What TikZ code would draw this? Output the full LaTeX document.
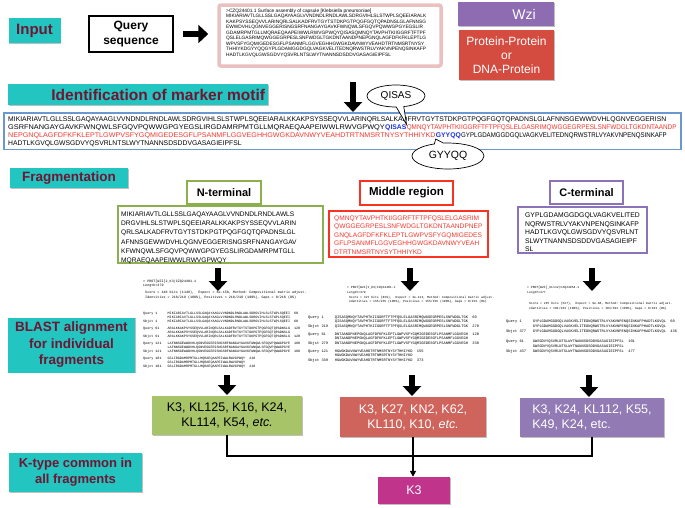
\documentclass[tikz,border=0pt]{standalone}
\usepackage{fontspec}
\setmainfont{Liberation Sans}
\setmonofont{Liberation Mono}
\usetikzlibrary{arrows.meta,shapes.callouts,shadows}
\newcommand{\FS}[2]{\fontsize{#1}{#2}\selectfont}
\newcommand{\BQrow}[4]{\makebox[7.2em][l]{#1\hspace{0.6em}#2}#3\hspace{1.2em}#4}
\newcommand{\BQmid}[1]{\hspace{7.2em}#1}
\definecolor{teal1}{RGB}{34,197,192}
\definecolor{maroon1}{RGB}{110,22,52}
\definecolor{pinkb}{RGB}{234,192,192}
\definecolor{wzi}{RGB}{142,108,178}
\definecolor{ppred}{RGB}{212,76,64}
\definecolor{blueb}{RGB}{108,152,208}
\definecolor{seqred}{RGB}{245,55,45}
\definecolor{seqblue}{RGB}{30,50,220}
\definecolor{ngreen}{RGB}{140,175,80}
\definecolor{mred}{RGB}{250,50,35}
\definecolor{cpurple}{RGB}{140,115,185}
\definecolor{rgreen}{RGB}{168,196,104}
\definecolor{rred}{RGB}{206,100,92}
\definecolor{rpurple}{RGB}{146,122,180}
\definecolor{kmag}{RGB}{192,52,140}
\begin{document}
\begin{tikzpicture}[x=1pt,y=-1pt,
  shad/.style={drop shadow={shadow xshift=0.8pt,shadow yshift=-0.8pt,opacity=0.25,fill=black}},
  banner/.style={fill=teal1,text=maroon1,inner sep=0pt,align=center,shad},
  bigarrow/.style={line width=6.5pt,-{Triangle[length=10pt,width=18pt]}},
  conn/.style={line width=1.6pt},
  seqtxt/.style={anchor=base west,inner sep=0pt,font=\FS{6.8}{8}},
  motif/.style={anchor=base west,inner sep=0pt,text=seqblue,font=\FS{6.8}{8}\bfseries},
  lblbox/.style={fill=white,inner sep=0pt,font=\FS{11}{13}\bfseries,shad},
  seqbox/.style={fill=white,inner sep=0pt,shad},
  seqblk/.style={anchor=north west,inner sep=0pt,align=left},
  resbox/.style={inner sep=0pt,align=center,font=\FS{12.5}{15},shad},
  blast/.style={anchor=north west,inner sep=0pt,align=left}
]
\useasboundingbox (0,0) rectangle (685,507);

% ---------- Input row ----------
\node[banner,minimum width=52pt,minimum height=25pt,font=\FS{15}{17}\bfseries] (input) at (34.5,30.5) {Input};
\node[draw=black,line width=1.2pt,fill=white,minimum width=84pt,minimum height=36pt,align=center,inner sep=0pt,font=\FS{12}{15}\bfseries,shad] (query) at (131,34) {Query\\sequence};
\node[draw=pinkb,line width=3.5pt,rounded corners=2pt,fill=white,minimum width=222pt,minimum height=61pt,inner sep=0pt] (qseq) at (330,35.5) {};
\node[blast,font=\FS{4.8}{5.5}] (qseqtxt) at (226,8.5) {>CZQ24401.1 Surface assembly of capsule [Klebsiella pneumoniae]\\
MIKIARIAVTLGLLSSLGAQAYAAGLVVNDNDLRNDLAWLSDRGVIHLSLSTWPLSQEEIARALK\\
KAKPSYSSEQVVLARINQRLSALKADFRVTGYTSTDKPGTPQGFGQTQPADNSLGLAFNNSG\\
EWWDVHLQGNVEGGERISNGSRFNANGAYGAVKFWNQWLSFGQVPQWWGPGYEGSLIR\\
GDAMRPMTGLLMQRAEQAAPEIWWLRWVGPWQYQISASQMNQYTAVPHTKIIGGRFTFTPF\\
QSLELGASRIMQWGGEGRPESLSNFWDGLTGKDNTAANDPNEPGNQLAGFDFKFKLEPTLG\\
WPVSFYGQMIGEDESGFLPSANMFLGGVEGHHGWGKDAVNWYVEAHDTRTNMSRTNYSY\\
THHIYKDGYYQQGYPLGDAMGGDGQLVAGKVELITEDNQRWSTRLVYAKVNPENQSINKAFP\\
HADTLKGVQLGWSGDVYQSVRLNTSLWYTNANNSDSDDVGASAGIEIPFSL};
\draw[bigarrow,shorten <=9pt,shorten >=9pt] (query.east) -- (query.east -| qseq.west);

\node[fill=wzi,minimum width=96pt,minimum height=24pt,inner sep=0pt,shad] (wzi) at (506,14) {};
\node[text=white,inner sep=0pt,font=\FS{14}{16}] (wzit) at ([xshift=18pt]wzi.center) {Wzi};
\node[fill=ppred,minimum width=95pt,minimum height=50pt,inner sep=0pt,align=center,text=white,font=\FS{12}{14},shad] (pp) at (506.5,55) {Protein-Protein\\or\\DNA-Protein};

% ---------- marker motif ----------
\node[banner,minimum width=260pt,minimum height=21pt] (ident) at (138,94.5) {};
\node[anchor=east,inner sep=0pt,text=maroon1,font=\FS{15.5}{17}\bfseries] (identt) at ([xshift=-3pt]ident.east) {Identification of marker motif};

\node[draw=blueb,line width=1.5pt,fill=white,minimum width=677pt,minimum height=36.5pt,inner sep=0pt,shad] (mainseq) at (342.5,131) {};
\coordinate (a2s) at (353,82);
\draw[bigarrow] (a2s) -- (a2s |- mainseq.north);

\node[seqtxt] (l1) at (8,121.5) {MIKIARIAVTLGLLSSLGAQAYAAGLVVNDNDLRNDLAWLSDRGVIHLSLSTWPLSQEEIARALKKAKPSYSSEQVVLARINQRLSALKADFRVTGYTSTDKPGTPQGFGQTQPADNSLGLAFNNSGEWWDVHLQGNVEGGERISN};
\node[seqtxt] (l2a) at (8,129.5) {\scalebox{1.08}[1]{GSRFNANGAYGAVKFWNQWLSFGQVPQWWGPGYEGSLIRGDAMRPMTGLLMQRAEQAAPEIWWLRWVGPWQY}};
\node[motif] (qisas) at (l2a.base east) {QISAS};
\node[seqtxt,text=seqred] (l2c) at (qisas.base east) {\scalebox{0.936}[1]{QMNQYTAVPHTKIIGGRFTFTPFQSLELGASRIMQWGGEGRPESLSNFWDGLTGKDNTAANDP}};
\node[seqtxt,text=seqred] (l3a) at (8,137.5) {\scalebox{1.052}[1]{NEPGNQLAGFDFKFKLEPTLGWPVSFYGQMIGEDESGFLPSANMFLGGVEGHHGWGKDAVNWYVEAHDTRTNMSRTNYSYTHHIYKD}};
\node[motif] (gyyqq) at (l3a.base east) {GYYQQ};
\node[seqtxt] (l3c) at (gyyqq.base east) {\scalebox{0.9}[1]{GYPLGDAMGGDGQLVAGKVELITEDNQRWSTRLVYAKVNPENQSINKAFP}};
\node[seqtxt] (l4) at (8,145.5) {HADTLKGVQLGWSGDVYQSVRLNTSLWYTNANNSDSDDVGASAGIEIPFSL};

\node[ellipse callout,draw=black,line width=0.7pt,fill=white,minimum width=58pt,minimum height=22pt,inner sep=0pt,font=\FS{10}{12},callout absolute pointer={(qisas.north east)}] (qc) at (396,96) {QISAS};
\node[ellipse callout,draw=black,line width=0.7pt,fill=white,minimum width=72pt,minimum height=26pt,inner sep=0pt,font=\FS{10.5}{12},callout absolute pointer={(gyyqq.south west)}] (gc) at (448,156) {GYYQQ};

% ---------- fragmentation ----------
\node[banner,minimum width=118pt,minimum height=20pt,font=\FS{13.5}{15}\bfseries] (frag) at (69,178) {Fragmentation};

\node[lblbox,draw=ngreen,line width=1.5pt,minimum width=74pt,minimum height=23pt] (nlab) at (224,192.5) {N-terminal};
\node[lblbox,draw=mred,line width=2pt,minimum width=93pt,minimum height=24pt,font=\FS{11.5}{13}\bfseries] (mlab) at (406.5,193) {Middle region};
\node[lblbox,draw=cpurple,line width=1.5pt,minimum width=73pt,minimum height=23pt] (clab) at (586.5,192.5) {C-terminal};

\node[seqbox,draw=ngreen,line width=1.5pt,minimum width=205pt,minimum height=57pt] (nseq) at (220.5,234.5) {};
\node[seqblk,font=\FS{6.6}{9.2}] (ntext) at (121,211.7) {MIKIARIAVTLGLLSSLGAQAYAAGLVVNDNDLRNDLAWLS\\
DRGVIHLSLSTWPLSQEEIARALKKAKPSYSSEQVVLARIN\\
QRLSALKADFRVTGYTSTDKPGTPQGFGQTQPADNSLGL\\
AFNNSGEWWDVHLQGNVEGGERISNGSRFNANGAYGAV\\
KFWNQWLSFGQVPQWWGPGYEGSLIRGDAMRPMTGLL\\
MQRAEQAAPEIWWLRWVGPWQY};

\node[seqbox,draw=mred,line width=1.5pt,minimum width=159pt,minimum height=46pt] (mseq) at (408.5,234) {};
\node[seqblk,text=seqred,font=\FS{6.6}{8.4}] (mtext) at (334,215.7) {QMNQYTAVPHTKIIGGRFTFTPFQSLELGASRIM\\
QWGGEGRPESLSNFWDGLTGKDNTAANDPNEP\\
GNQLAGFDFKFKLEPTLGWPVSFYGQMIGEDES\\
GFLPSANMFLGGVEGHHGWGKDAVNWYVEAH\\
DTRTNMSRTNYSYTHHIYKD};

\node[seqbox,draw=cpurple,line width=1.5pt,minimum width=129pt,minimum height=46pt] (cseq) at (582.5,230) {};
\node[seqblk,font=\FS{6.8}{8.5}] (ctext) at (525,212.6) {GYPLGDAMGGDGQLVAGKVELITED\\
NQRWSTRLVYAKVNPENQSINKAFP\\
HADTLKGVQLGWSGDVYQSVRLNT\\
SLWYTNANNSDSDDVGASAGIEIPF\\
SL};

\coordinate (na1) at (218,268); \coordinate (na2) at (218,291);
\coordinate (ma1) at (410,268); \coordinate (ma2) at (410,291);
\coordinate (ca1) at (592,268); \coordinate (ca2) at (592,291);
\draw[bigarrow] (na1) -- (na2);
\draw[bigarrow] (ma1) -- (ma2);
\draw[bigarrow] (ca1) -- (ca2);

% ---------- BLAST ----------
\node[banner,minimum width=127pt,minimum height=55pt,font=\FS{13.5}{16.5}\bfseries] (blastlab) at (71.5,345) {BLAST alignment\\for individual\\fragments};

\node[blast,font=\ttfamily\FS{3.4}{4.6}] (b1) at (143,279.5) {> PROT[WZI]2\_K3|CZQ24401.1\\
Length=479\\[2.5pt]
~Score = 446 bits (1148),~~Expect = 6e-158, Method: Compositional matrix adjust.\\
~Identities = 218/218 (100\%), Positives = 218/218 (100\%), Gaps = 0/218 (0\%)\\[11pt]
\BQrow{Query}{1~~~}{MIKIARIAVTLGLLSSLGAQAYAAGLVVNDNDLRNDLAWLSDRGVIHLSLSTWPLSQEEI}{60}\\[-0.6pt]
\BQmid{MIKIARIAVTLGLLSSLGAQAYAAGLVVNDNDLRNDLAWLSDRGVIHLSLSTWPLSQEEI}\\[-0.6pt]
\BQrow{Sbjct}{1~~~}{MIKIARIAVTLGLLSSLGAQAYAAGLVVNDNDLRNDLAWLSDRGVIHLSLSTWPLSQEEI}{60}\\[2.4pt]
\BQrow{Query}{61~~}{ARALKKAKPSYSSEQVVLARINQRLSALKADFRVTGYTSTDKPGTPQGFGQTQPADNSLG}{120}\\[-0.6pt]
\BQmid{ARALKKAKPSYSSEQVVLARINQRLSALKADFRVTGYTSTDKPGTPQGFGQTQPADNSLG}\\[-0.6pt]
\BQrow{Sbjct}{61~~}{ARALKKAKPSYSSEQVVLARINQRLSALKADFRVTGYTSTDKPGTPQGFGQTQPADNSLG}{120}\\[2.4pt]
\BQrow{Query}{121~}{LAFNNSGEWWDVHLQGNVEGGERISNGSRFNANGAYGAVKFWNQWLSFGQVPQWWGPGYE}{180}\\[-0.6pt]
\BQmid{LAFNNSGEWWDVHLQGNVEGGERISNGSRFNANGAYGAVKFWNQWLSFGQVPQWWGPGYE}\\[-0.6pt]
\BQrow{Sbjct}{121~}{LAFNNSGEWWDVHLQGNVEGGERISNGSRFNANGAYGAVKFWNQWLSFGQVPQWWGPGYE}{180}\\[2.4pt]
\BQrow{Query}{181~}{GSLIRGDAMRPMTGLLMQRAEQAAPEIWWLRWVGPWQY}{218}\\[-0.6pt]
\BQmid{GSLIRGDAMRPMTGLLMQRAEQAAPEIWWLRWVGPWQY}\\[-0.6pt]
\BQrow{Sbjct}{181~}{GSLIRGDAMRPMTGLLMQRAEQAAPEIWWLRWVGPWQY}{218}};

\node[blast,font=\ttfamily\FS{3.1}{4.2}] (b2h) at (347,286.5) {> PROT[WZI]2\_K3|CZQ24401.1\\
Length=479\\[0.8pt]
~Score = 327 bits (839),~~Expect = 3e-113, Method: Compositional matrix adjust.\\
~Identities = 155/155 (100\%), Positives = 155/155 (100\%), Gaps = 0/155 (0\%)};
\node[blast,font=\ttfamily\FS{3.7}{4.5}] (b2) at (308,315.5) {\BQrow{Query}{1~~~}{QISASQMNQYTAVPHTKIIGGRFTFTPFQSLELGASRIMQWGGEGRPESLSNFWDGLTGK}{60}\\
\BQmid{QISASQMNQYTAVPHTKIIGGRFTFTPFQSLELGASRIMQWGGEGRPESLSNFWDGLTGK}\\
\BQrow{Sbjct}{219~}{QISASQMNQYTAVPHTKIIGGRFTFTPFQSLELGASRIMQWGGEGRPESLSNFWDGLTGK}{278}\\[3.5pt]
\BQrow{Query}{61~~}{DNTAANDPNEPGNQLAGFDFKFKLEPTLGWPVSFYGQMIGEDESGFLPSANMFLGGVEGH}{120}\\
\BQmid{DNTAANDPNEPGNQLAGFDFKFKLEPTLGWPVSFYGQMIGEDESGFLPSANMFLGGVEGH}\\
\BQrow{Sbjct}{279~}{DNTAANDPNEPGNQLAGFDFKFKLEPTLGWPVSFYGQMIGEDESGFLPSANMFLGGVEGH}{338}\\[3.5pt]
\BQrow{Query}{121~}{HGWGKDAVNWYVEAHDTRTNMSRTNYSYTHHIYKD}{155}\\
\BQmid{HGWGKDAVNWYVEAHDTRTNMSRTNYSYTHHIYKD}\\
\BQrow{Sbjct}{339~}{HGWGKDAVNWYVEAHDTRTNMSRTNYSYTHHIYKD}{373}};

\node[blast,font=\ttfamily\FS{3.1}{4.2}] (b3h) at (527,286.5) {> PROT[WZI]\_KL112|CZQ24954.1\\
Length=477\\[7.5pt]
~Score = 207 bits (527),~~Expect = 9e-68, Method: Compositional matrix adjust.\\
~Identities = 101/101 (100\%), Positives = 101/101 (100\%), Gaps = 0/101 (0\%)};
\node[blast,font=\ttfamily\FS{3.7}{5}] (b3) at (506,319.5) {\BQrow{Query}{1~~~}{GYPLGDAMGGDGQLVAGKVELITEDNQRWSTRLVYAKVNPENQSINKAFPHADTLKGVQL}{60}\\
\BQmid{GYPLGDAMGGDGQLVAGKVELITEDNQRWSTRLVYAKVNPENQSINKAFPHADTLKGVQL}\\
\BQrow{Sbjct}{377~}{GYPLGDAMGGDGQLVAGKVELITEDNQRWSTRLVYAKVNPENQSINKAFPHADTLKGVQL}{436}\\[5pt]
\BQrow{Query}{61~~}{GWSGDVYQSVRLNTSLWYTNANNSDSDDVGASAGIEIPFSL}{101}\\
\BQmid{GWSGDVYQSVRLNTSLWYTNANNSDSDDVGASAGIEIPFSL}\\
\BQrow{Sbjct}{437~}{GWSGDVYQSVRLNTSLWYTNANNSDSDDVGASAGIEIPFSL}{477}};

\coordinate (nb1) at (227,375); \coordinate (nb2) at (227,395);
\coordinate (mb1) at (412,375); \coordinate (mb2) at (412,396);
\coordinate (cb1) at (589,375); \coordinate (cb2) at (589,397);
\draw[bigarrow] (nb1) -- (nb2);
\draw[bigarrow] (mb1) -- (mb2);
\draw[bigarrow] (cb1) -- (cb2);

% ---------- results ----------
\node[resbox,fill=rgreen,minimum width=150pt,minimum height=39pt] (rg) at (227,415.5) {K3, KL125, K16, K24,\\KL114, K54, \textit{etc.}};
\node[resbox,fill=rred,text=white,minimum width=146pt,minimum height=40pt] (rr) at (413,417) {K3, K27, KN2, K62,\\KL110, K10, \textit{etc.}};
\node[resbox,fill=rpurple,text=white,minimum width=144pt,minimum height=39pt,align=left] (rp) at (592,417.5) {K3, K24, KL112, K55,\\K49, K24, etc.};

\node[banner,minimum width=133pt,minimum height=39pt,font=\FS{13}{16}\bfseries] (ktype) at (75.5,472.5) {K-type common in\\all fragments};

\coordinate (hl) at (413,456);
\draw[conn] (rg.south) |- (hl) -| (rp.south);
\node[fill=kmag,text=white,minimum width=72pt,minimum height=27pt,inner sep=0pt,font=\FS{12.5}{14},shad] (k3) at (414,490.5) {K3};
\draw[conn,-{Triangle[length=6pt,width=6pt]}] (rr.south) -- (rr.south |- k3.north);
\end{tikzpicture}
\end{document}
